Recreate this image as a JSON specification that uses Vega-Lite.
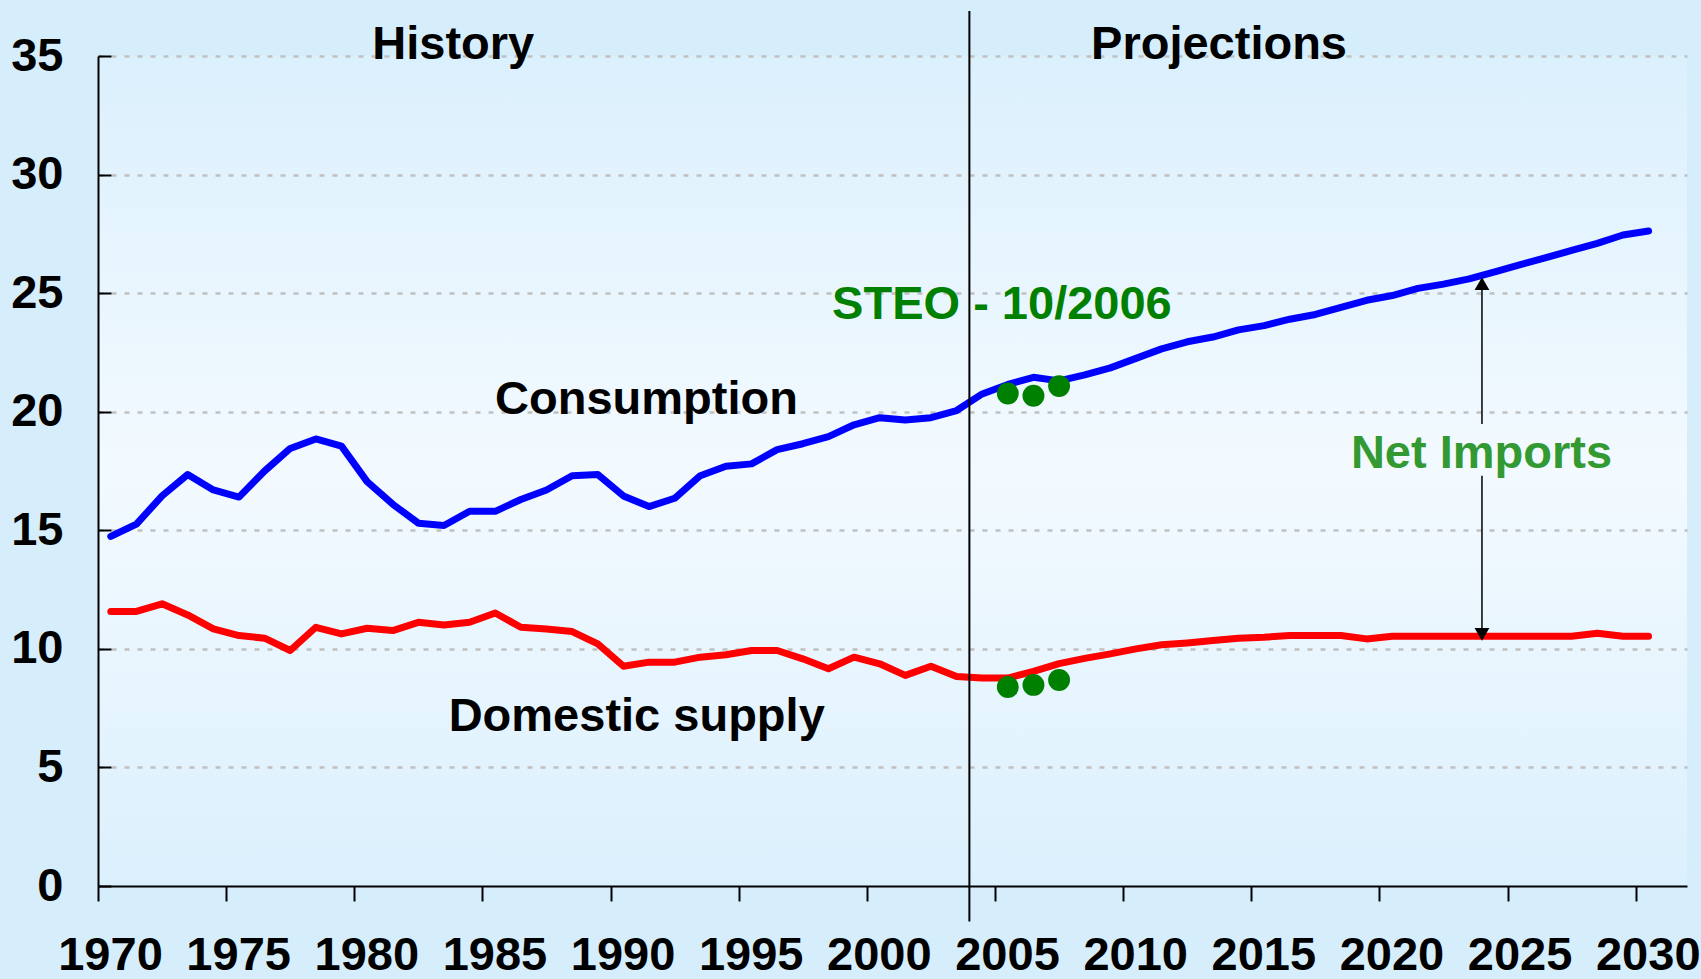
{
  "$schema": "https://vega.github.io/schema/vega-lite/v6.json",
  "width": 1589,
  "height": 830,
  "autosize": {"type": "none"},
  "padding": {"left": 98, "top": 56, "right": 14, "bottom": 93},
  "background": "#d6eefc",
  "config": {
    "view": {
      "stroke": null,
      "fill": {"gradient": "linear", "x1": 0, "y1": 0, "x2": 0, "y2": 1,
        "stops": [{"offset": 0, "color": "#dbf0fd"}, {"offset": 0.5, "color": "#f3faff"}, {"offset": 1, "color": "#dbf0fd"}]}
    },
    "font": "Liberation Sans"
  },
  "datasets": {
    "lines": [
      {"year": 1970, "series": "Consumption", "value": 14.74},
      {"year": 1971, "series": "Consumption", "value": 15.26},
      {"year": 1972, "series": "Consumption", "value": 16.45},
      {"year": 1973, "series": "Consumption", "value": 17.35},
      {"year": 1974, "series": "Consumption", "value": 16.7},
      {"year": 1975, "series": "Consumption", "value": 16.4},
      {"year": 1976, "series": "Consumption", "value": 17.5},
      {"year": 1977, "series": "Consumption", "value": 18.45},
      {"year": 1978, "series": "Consumption", "value": 18.85},
      {"year": 1979, "series": "Consumption", "value": 18.55},
      {"year": 1980, "series": "Consumption", "value": 17.05},
      {"year": 1981, "series": "Consumption", "value": 16.1},
      {"year": 1982, "series": "Consumption", "value": 15.3},
      {"year": 1983, "series": "Consumption", "value": 15.2},
      {"year": 1984, "series": "Consumption", "value": 15.8},
      {"year": 1985, "series": "Consumption", "value": 15.8},
      {"year": 1986, "series": "Consumption", "value": 16.3},
      {"year": 1987, "series": "Consumption", "value": 16.7},
      {"year": 1988, "series": "Consumption", "value": 17.3},
      {"year": 1989, "series": "Consumption", "value": 17.35},
      {"year": 1990, "series": "Consumption", "value": 16.45},
      {"year": 1991, "series": "Consumption", "value": 16.0},
      {"year": 1992, "series": "Consumption", "value": 16.35},
      {"year": 1993, "series": "Consumption", "value": 17.3},
      {"year": 1994, "series": "Consumption", "value": 17.7},
      {"year": 1995, "series": "Consumption", "value": 17.8},
      {"year": 1996, "series": "Consumption", "value": 18.4},
      {"year": 1997, "series": "Consumption", "value": 18.65},
      {"year": 1998, "series": "Consumption", "value": 18.95},
      {"year": 1999, "series": "Consumption", "value": 19.45},
      {"year": 2000, "series": "Consumption", "value": 19.75},
      {"year": 2001, "series": "Consumption", "value": 19.65},
      {"year": 2002, "series": "Consumption", "value": 19.75},
      {"year": 2003, "series": "Consumption", "value": 20.05},
      {"year": 2004, "series": "Consumption", "value": 20.75},
      {"year": 2005, "series": "Consumption", "value": 21.15},
      {"year": 2006, "series": "Consumption", "value": 21.45},
      {"year": 2007, "series": "Consumption", "value": 21.3},
      {"year": 2008, "series": "Consumption", "value": 21.55},
      {"year": 2009, "series": "Consumption", "value": 21.85},
      {"year": 2010, "series": "Consumption", "value": 22.25},
      {"year": 2011, "series": "Consumption", "value": 22.65},
      {"year": 2012, "series": "Consumption", "value": 22.95},
      {"year": 2013, "series": "Consumption", "value": 23.15},
      {"year": 2014, "series": "Consumption", "value": 23.45},
      {"year": 2015, "series": "Consumption", "value": 23.63},
      {"year": 2016, "series": "Consumption", "value": 23.9},
      {"year": 2017, "series": "Consumption", "value": 24.1},
      {"year": 2018, "series": "Consumption", "value": 24.4},
      {"year": 2019, "series": "Consumption", "value": 24.7},
      {"year": 2020, "series": "Consumption", "value": 24.9},
      {"year": 2021, "series": "Consumption", "value": 25.2},
      {"year": 2022, "series": "Consumption", "value": 25.38},
      {"year": 2023, "series": "Consumption", "value": 25.6},
      {"year": 2024, "series": "Consumption", "value": 25.9},
      {"year": 2025, "series": "Consumption", "value": 26.2},
      {"year": 2026, "series": "Consumption", "value": 26.5},
      {"year": 2027, "series": "Consumption", "value": 26.8},
      {"year": 2028, "series": "Consumption", "value": 27.1},
      {"year": 2029, "series": "Consumption", "value": 27.45},
      {"year": 2030, "series": "Consumption", "value": 27.62},
      {"year": 1970, "series": "Domestic supply", "value": 11.58},
      {"year": 1971, "series": "Domestic supply", "value": 11.58},
      {"year": 1972, "series": "Domestic supply", "value": 11.9},
      {"year": 1973, "series": "Domestic supply", "value": 11.43},
      {"year": 1974, "series": "Domestic supply", "value": 10.84},
      {"year": 1975, "series": "Domestic supply", "value": 10.56},
      {"year": 1976, "series": "Domestic supply", "value": 10.45},
      {"year": 1977, "series": "Domestic supply", "value": 9.93},
      {"year": 1978, "series": "Domestic supply", "value": 10.91},
      {"year": 1979, "series": "Domestic supply", "value": 10.63},
      {"year": 1980, "series": "Domestic supply", "value": 10.87},
      {"year": 1981, "series": "Domestic supply", "value": 10.77},
      {"year": 1982, "series": "Domestic supply", "value": 11.12},
      {"year": 1983, "series": "Domestic supply", "value": 11.01},
      {"year": 1984, "series": "Domestic supply", "value": 11.12},
      {"year": 1985, "series": "Domestic supply", "value": 11.51},
      {"year": 1986, "series": "Domestic supply", "value": 10.91},
      {"year": 1987, "series": "Domestic supply", "value": 10.84},
      {"year": 1988, "series": "Domestic supply", "value": 10.73},
      {"year": 1989, "series": "Domestic supply", "value": 10.21},
      {"year": 1990, "series": "Domestic supply", "value": 9.27},
      {"year": 1991, "series": "Domestic supply", "value": 9.44},
      {"year": 1992, "series": "Domestic supply", "value": 9.44},
      {"year": 1993, "series": "Domestic supply", "value": 9.65},
      {"year": 1994, "series": "Domestic supply", "value": 9.75},
      {"year": 1995, "series": "Domestic supply", "value": 9.93},
      {"year": 1996, "series": "Domestic supply", "value": 9.93},
      {"year": 1997, "series": "Domestic supply", "value": 9.58},
      {"year": 1998, "series": "Domestic supply", "value": 9.16},
      {"year": 1999, "series": "Domestic supply", "value": 9.65},
      {"year": 2000, "series": "Domestic supply", "value": 9.37},
      {"year": 2001, "series": "Domestic supply", "value": 8.88},
      {"year": 2002, "series": "Domestic supply", "value": 9.27},
      {"year": 2003, "series": "Domestic supply", "value": 8.83},
      {"year": 2004, "series": "Domestic supply", "value": 8.77},
      {"year": 2005, "series": "Domestic supply", "value": 8.77},
      {"year": 2006, "series": "Domestic supply", "value": 9.05},
      {"year": 2007, "series": "Domestic supply", "value": 9.38},
      {"year": 2008, "series": "Domestic supply", "value": 9.6},
      {"year": 2009, "series": "Domestic supply", "value": 9.79},
      {"year": 2010, "series": "Domestic supply", "value": 10.0},
      {"year": 2011, "series": "Domestic supply", "value": 10.17},
      {"year": 2012, "series": "Domestic supply", "value": 10.25},
      {"year": 2013, "series": "Domestic supply", "value": 10.35},
      {"year": 2014, "series": "Domestic supply", "value": 10.45},
      {"year": 2015, "series": "Domestic supply", "value": 10.49},
      {"year": 2016, "series": "Domestic supply", "value": 10.56},
      {"year": 2017, "series": "Domestic supply", "value": 10.56},
      {"year": 2018, "series": "Domestic supply", "value": 10.56},
      {"year": 2019, "series": "Domestic supply", "value": 10.42},
      {"year": 2020, "series": "Domestic supply", "value": 10.53},
      {"year": 2021, "series": "Domestic supply", "value": 10.53},
      {"year": 2022, "series": "Domestic supply", "value": 10.53},
      {"year": 2023, "series": "Domestic supply", "value": 10.53},
      {"year": 2024, "series": "Domestic supply", "value": 10.53},
      {"year": 2025, "series": "Domestic supply", "value": 10.53},
      {"year": 2026, "series": "Domestic supply", "value": 10.53},
      {"year": 2027, "series": "Domestic supply", "value": 10.53},
      {"year": 2028, "series": "Domestic supply", "value": 10.66},
      {"year": 2029, "series": "Domestic supply", "value": 10.53},
      {"year": 2030, "series": "Domestic supply", "value": 10.53}
    ],
    "steo": [
      {"year": 2005, "series": "Consumption", "value": 20.77},
      {"year": 2006, "series": "Consumption", "value": 20.67},
      {"year": 2007, "series": "Consumption", "value": 21.08},
      {"year": 2005, "series": "Domestic supply", "value": 8.39},
      {"year": 2006, "series": "Domestic supply", "value": 8.48},
      {"year": 2007, "series": "Domestic supply", "value": 8.69}
    ],
    "one": [{}]
  },
  "layer": [
    {
      "data": {"name": "lines"},
      "mark": {"type": "line", "strokeWidth": 7, "strokeCap": "round", "strokeJoin": "round"},
      "encoding": {
        "x": {
          "field": "year", "type": "quantitative",
          "scale": {"domain": [1969.5, 2031.5], "nice": false, "zero": false},
          "axis": {
            "title": null, "grid": false,
            "values": [1969.5, 1974.5, 1979.5, 1984.5, 1989.5, 1994.5, 1999.5, 2004.5, 2009.5, 2014.5, 2019.5, 2024.5, 2029.5],
            "labelExpr": "format(datum.value + 0.5, 'd')",
            "tickSize": 15, "tickWidth": 2, "tickColor": "#000000",
            "domainColor": "#000000", "domainWidth": 2,
            "labelFontSize": 47, "labelFontWeight": "bold", "labelColor": "#000000",
            "labelFont": "Liberation Sans",
            "labelPadding": 31, "labelOffset": 12,
            "labelFlush": false, "labelOverlap": false, "labelBound": false
          }
        },
        "y": {
          "field": "value", "type": "quantitative",
          "scale": {"domain": [0, 35], "nice": false, "zero": true},
          "axis": {
            "title": null,
            "values": [0, 5, 10, 15, 20, 25, 30, 35],
            "grid": true, "gridDash": [5, 8], "gridColor": "#c0c0c0", "gridWidth": 2.5,
            "gridOpacity": {"condition": {"test": "datum.value === 0", "value": 0}, "value": 1},
            "tickSize": -13, "tickWidth": 2, "tickColor": "#000000",
            "domainColor": "#000000", "domainWidth": 2,
            "labelFontSize": 47, "labelFontWeight": "bold", "labelColor": "#000000",
            "labelFont": "Liberation Sans",
            "labelPadding": 48, "labelOverlap": false, "labelBound": false, "labelFlush": false
          }
        },
        "color": {
          "field": "series", "type": "nominal",
          "scale": {"domain": ["Consumption", "Domestic supply"], "range": ["#0000ff", "#ff0000"]},
          "legend": null
        }
      }
    },
    {
      "data": {"name": "one"},
      "mark": {"type": "rule", "color": "#000000", "strokeWidth": 2},
      "encoding": {
        "x": {"datum": 2003.5},
        "y": {"datum": -1.5},
        "y2": {"datum": 36.9}
      }
    },
    {
      "data": {"name": "steo"},
      "mark": {"type": "circle", "size": 480, "color": "#008000", "opacity": 1},
      "encoding": {
        "x": {"field": "year", "type": "quantitative"},
        "y": {"field": "value", "type": "quantitative"}
      }
    },
    {
      "data": {"name": "one"},
      "mark": {"type": "rule", "color": "#000000", "strokeWidth": 1.5},
      "encoding": {
        "x": {"datum": 2023.5},
        "y": {"datum": 25.5},
        "y2": {"datum": 19.48}
      }
    },
    {
      "data": {"name": "one"},
      "mark": {"type": "rule", "color": "#000000", "strokeWidth": 1.5},
      "encoding": {
        "x": {"datum": 2023.5},
        "y": {"datum": 17.3},
        "y2": {"datum": 10.5}
      }
    },
    {
      "data": {"name": "one"},
      "mark": {"type": "point", "shape": "triangle-up", "filled": true, "size": 220, "color": "#000000", "opacity": 1},
      "encoding": {
        "x": {"datum": 2023.5},
        "y": {"datum": 25.4}
      }
    },
    {
      "data": {"name": "one"},
      "mark": {"type": "point", "shape": "triangle-down", "filled": true, "size": 220, "color": "#000000", "opacity": 1},
      "encoding": {
        "x": {"datum": 2023.5},
        "y": {"datum": 10.61}
      }
    },
    {
      "data": {"name": "one"},
      "mark": {"type": "text", "fontSize": 47, "fontWeight": "bold", "font": "Liberation Sans", "color": "#000000", "align": "center", "baseline": "middle"},
      "encoding": {"x": {"datum": 1983.36}, "y": {"datum": 35.47}, "text": {"value": "History"}}
    },
    {
      "data": {"name": "one"},
      "mark": {"type": "text", "fontSize": 47, "fontWeight": "bold", "font": "Liberation Sans", "color": "#000000", "align": "center", "baseline": "middle"},
      "encoding": {"x": {"datum": 2013.24}, "y": {"datum": 35.47}, "text": {"value": "Projections"}}
    },
    {
      "data": {"name": "one"},
      "mark": {"type": "text", "fontSize": 47, "fontWeight": "bold", "font": "Liberation Sans", "color": "#000000", "align": "center", "baseline": "middle"},
      "encoding": {"x": {"datum": 1990.9}, "y": {"datum": 20.49}, "text": {"value": "Consumption"}}
    },
    {
      "data": {"name": "one"},
      "mark": {"type": "text", "fontSize": 47, "fontWeight": "bold", "font": "Liberation Sans", "color": "#000000", "align": "center", "baseline": "middle"},
      "encoding": {"x": {"datum": 1990.52}, "y": {"datum": 7.13}, "text": {"value": "Domestic supply"}}
    },
    {
      "data": {"name": "one"},
      "mark": {"type": "text", "fontSize": 47, "fontWeight": "bold", "font": "Liberation Sans", "color": "#008000", "align": "center", "baseline": "middle"},
      "encoding": {"x": {"datum": 2004.77}, "y": {"datum": 24.52}, "text": {"value": "STEO - 10/2006"}}
    },
    {
      "data": {"name": "one"},
      "mark": {"type": "text", "fontSize": 47, "fontWeight": "bold", "font": "Liberation Sans", "color": "#339933", "align": "center", "baseline": "middle"},
      "encoding": {"x": {"datum": 2023.48}, "y": {"datum": 18.21}, "text": {"value": "Net Imports"}}
    }
  ]
}
